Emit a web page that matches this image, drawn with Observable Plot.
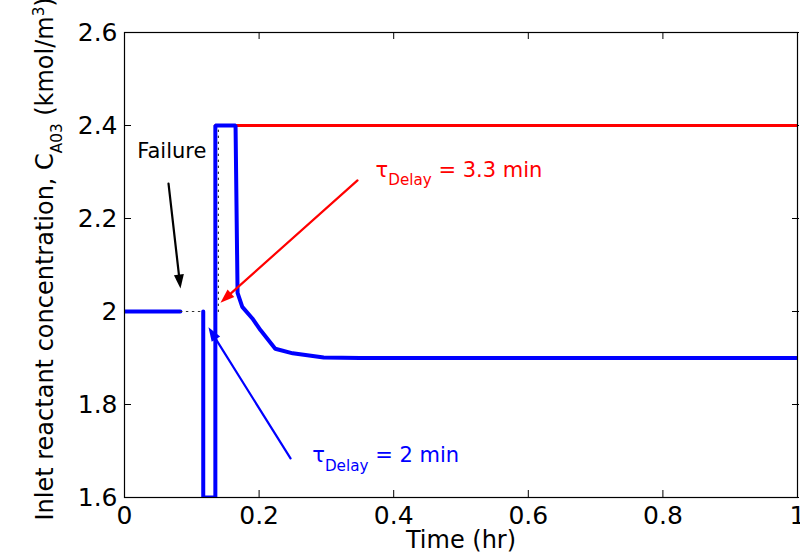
<!DOCTYPE html>
<html><head><meta charset="utf-8">
<script src="https://cdn.jsdelivr.net/npm/d3@7"></script>
<script src="https://cdn.jsdelivr.net/npm/@observablehq/plot@0.6"></script>
<style>
html,body{margin:0;padding:0;background:#fff;overflow:hidden;}
</style>
</head><body><div id="chart"></div>
<script>
// ---- data ----
const xTicks = [0, 0.2, 0.4, 0.6, 0.8, 1];
const xTickLabels = ["0", "0.2", "0.4", "0.6", "0.8", "1"];
const yTicks = [1.6, 1.8, 2.0, 2.2, 2.4, 2.6];
const yTickLabels = ["1.6", "1.8", "2", "2.2", "2.4", "2.6"];

// blue trajectory (tau_Delay = 2 min); NaN = gap during failure
const blueTime = [0, 0.083, NaN, 0.117, 0.117, 0.135, 0.135, 0.165, 0.168, 0.175, 0.19, 0.202, 0.224, 0.25, 0.296, 0.35, 1.0];
const blueConc = [2.0, 2.0, NaN, 2.0, 1.6, 1.6, 2.4, 2.4, 2.04, 2.01, 1.985, 1.96, 1.92, 1.91, 1.901, 1.9, 1.9];

// red trajectory (tau_Delay = 3.3 min)
const redTime = [0.135, 1.0];
const redConc = [2.4, 2.4];

// dotted black (failure period / switch)
const dotTime = [0.083, 0.117, NaN, 0.1395, 0.1395];
const dotConc = [2.0, 2.0, NaN, 2.0, 2.4];

// annotation arrows
const arrowX1 = [0.0654, 0.3462, 0.2467];
const arrowY1 = [2.275, 2.282, 1.684];
const arrowX2 = [0.0832, 0.1426, 0.1248];
const arrowY2 = [2.0495, 2.019, 1.966];
const arrowColors = ["#000000", "#ff0000", "#0000ff"];

// annotation texts
const noteText = ["Failure", "τDelay = 3.3 min", "τDelay = 2 min"];
const noteX = [0.019, 0.373, 0.279];
const noteY = [2.3305, 2.290, 1.676];
const noteColors = ["#000000", "#ff0000", "#0000ff"];

const xLabel = "Time (hr)";
const yLabel = "Inlet reactant concentration, CA03 (kmol/m3)";

// rich text segments (sub / superscripts)
const richText = {
  "τDelay = 3.3 min": [["τ"], ["Delay", "sub"], [" = 3.3 min"]],
  "τDelay = 2 min": [["τ"], ["Delay", "sub"], [" = 2 min"]],
  [yLabel]: [["Inlet reactant concentration, C"], ["A03", "sub"], [" (kmol/m"], ["3", "sup"], [")"]]
};

// ---- chart ----
const idx = a => a.map((_, i) => i);
const font = "'DejaVu Sans', sans-serif";
const T = 7; // inward tick length
const noText = {fill: "none", tickFormat: () => "", label: null, stroke: "black", strokeWidth: 1, tickSize: T};

const plot = Plot.plot({
  width: 800,
  height: 557,
  marginTop: 32,
  marginRight: 3,
  marginBottom: 60,
  marginLeft: 124,
  style: {fontFamily: font, fontSize: "25px", color: "black", background: "white", overflow: "visible"},
  x: {domain: [0, 1]},
  y: {domain: [1.6, 2.6]},
  marks: [
    // tick labels
    Plot.axisX({ticks: xTicks, tickSize: 0, tickPadding: 9, label: null, fontSize: 25,
      tickFormat: d => xTickLabels[xTicks.indexOf(d)]}),
    Plot.axisY({ticks: yTicks, tickSize: 0, tickPadding: 7, label: null, fontSize: 25,
      tickFormat: d => yTickLabels[yTicks.indexOf(d)]}),
    // inward ticks on all four sides (outward ticks shifted into the frame)
    Plot.axisX({...noText, ticks: xTicks, anchor: "bottom", dy: -T}),
    Plot.axisX({...noText, ticks: xTicks, anchor: "top", dy: T - 1}),
    Plot.axisY({...noText, ticks: yTicks, anchor: "left", dx: T}),
    Plot.axisY({...noText, ticks: yTicks, anchor: "right", dx: -T + 1}),
    // series
    Plot.line(idx(redTime), {x: i => redTime[i], y: i => redConc[i], stroke: "#ff0000", strokeWidth: 3, clip: true}),
    Plot.line(idx(blueTime), {x: i => blueTime[i], y: i => blueConc[i], stroke: "#0000ff", strokeWidth: 4,
      strokeLinejoin: "miter", clip: true}),
    Plot.line(idx(dotTime), {x: i => dotTime[i], y: i => dotConc[i], stroke: "#333", strokeWidth: 1.2,
      strokeDasharray: "1.5,4.5"}),
    // arrows with filled heads
    Plot.arrow(idx(arrowX1), {x1: i => arrowX1[i], y1: i => arrowY1[i], x2: i => arrowX2[i], y2: i => arrowY2[i],
      stroke: i => arrowColors[i], strokeWidth: 2.2, headLength: 0, insetEnd: 8,
      render(index, scales, values, dimensions, context, next) {
        const g = next(index, scales, values, dimensions, context);
        const L = 14, W = 5;
        for (const i of index) {
          const X1 = scales.x(arrowX1[i]), Y1 = scales.y(arrowY1[i]);
          const X2 = scales.x(arrowX2[i]), Y2 = scales.y(arrowY2[i]);
          const a = Math.atan2(Y2 - Y1, X2 - X1), c = Math.cos(a), s = Math.sin(a);
          const bx = X2 - L * c, by = Y2 - L * s;
          const pts = [[X2, Y2], [bx - W * s, by + W * c], [bx + W * s, by - W * c]];
          d3.select(g).append("polygon")
            .attr("points", pts.map(p => p.join(",")).join(" "))
            .attr("fill", arrowColors[i]).attr("stroke", "none");
        }
        return g;
      }}),
    // annotation texts
    Plot.text(idx(noteText), {x: i => noteX[i], y: i => noteY[i], text: i => noteText[i], fill: i => noteColors[i],
      textAnchor: "start", lineAnchor: "bottom", fontSize: 21}),
    // axis titles
    Plot.text([0], {frameAnchor: "bottom", dy: 43, text: () => xLabel, fontSize: 24, lineAnchor: "middle"}),
    Plot.text([0], {frameAnchor: "bottom-left", dx: -79, dy: 23, rotate: -90, textAnchor: "start",
      lineAnchor: "middle", text: () => yLabel, fontSize: 24}),
    Plot.frame({stroke: "black", strokeWidth: 1.2})
  ]
});

// apply sub/superscripts
d3.select(plot).selectAll("text").each(function() {
  const t = this.textContent;
  const segs = richText[t];
  if (!segs) return;
  const el = d3.select(this);
  const fs = parseFloat(el.attr("font-size")) || parseFloat(getComputedStyle(this).fontSize) || 20;
  el.text(null);
  let shift = 0;
  for (const [s, kind] of segs) {
    const ts = el.append("tspan").text(s);
    let target = 0;
    if (kind === "sub") { target = 0.42; ts.attr("font-size", (fs * 0.76).toFixed(1)); }
    if (kind === "sup") { target = -0.45; ts.attr("font-size", (fs * 0.76).toFixed(1)); }
    const delta = target - shift;
    if (delta !== 0) ts.attr("dy", (delta * fs).toFixed(2));
    shift = target;
  }
});

document.getElementById("chart").appendChild(plot);
</script>
</body></html>
